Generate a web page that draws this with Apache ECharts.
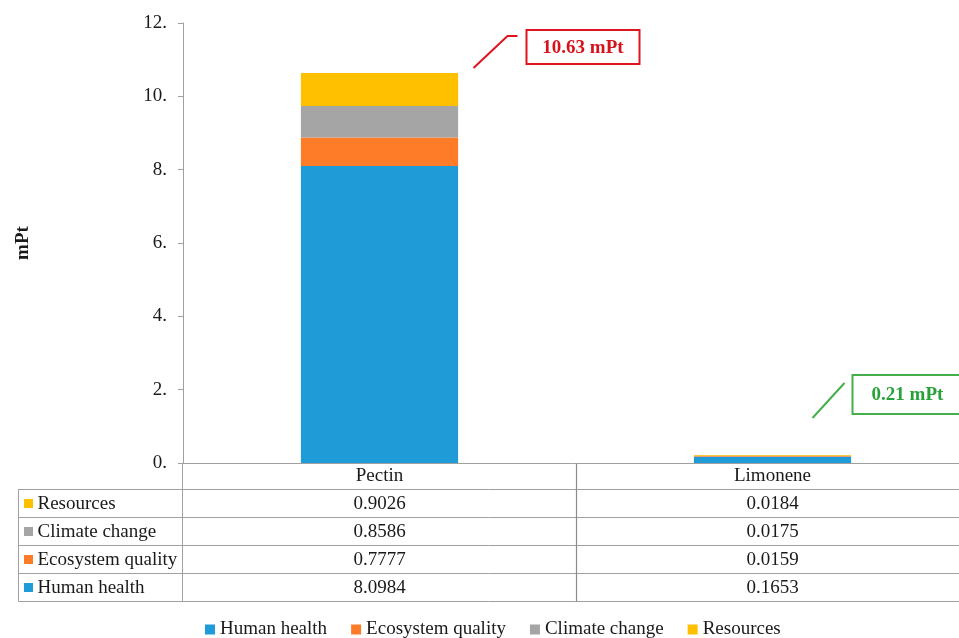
<!DOCTYPE html>
<html>
<head>
<meta charset="utf-8">
<script src="https://cdn.jsdelivr.net/npm/echarts@6/dist/echarts.min.js"></script>
<style>
  html, body { margin: 0; padding: 0; background: #ffffff; }
  #chart { width: 959px; height: 638px; }
</style>
</head>
<body>
<div id="chart"></div>
<script>
// Single-score results per product, split by damage category (mPt)
const categories = ['Pectin', 'Limonene'];
const seriesNames = ['Human health', 'Ecosystem quality', 'Climate change', 'Resources'];
const humanHealth = [8.0984, 0.1653];
const ecosystemQuality = [0.7777, 0.0159];
const climateChange = [0.8586, 0.0175];
const resources = [0.9026, 0.0184];
const totalLabels = ['10.63 mPt', '0.21 mPt'];
const yTicks = [0, 2, 4, 6, 8, 10, 12];

const seriesValues = [humanHealth, ecosystemQuality, climateChange, resources];
const colors = ['#1F9BD7', '#FE7C27', '#A5A5A5', '#FFC000'];
const FONT = 'Liberation Serif';
const FS = 19;
const TEXT = '#1a1a1a';
const LINE = '#a0a0a0';

const chart = echarts.init(document.getElementById('chart'), null, { renderer: 'canvas' });

const GRID = { left: 183, top: 23, width: 786, height: 440 };

chart.setOption({
  animation: false,
  backgroundColor: '#ffffff',
  color: colors,
  grid: Object.assign({ outerBoundsMode: 'none', containLabel: false }, GRID),
  legend: {
    left: 200,
    top: 615,
    itemWidth: 10,
    itemHeight: 10,
    itemGap: 24,
    icon: 'rect',
    data: seriesNames,
    textStyle: { fontFamily: FONT, fontSize: FS, color: TEXT }
  },
  xAxis: {
    type: 'category',
    data: categories,
    axisLine: { show: true, lineStyle: { color: LINE, width: 1 } },
    axisTick: { show: false },
    axisLabel: { show: true, fontFamily: FONT, fontSize: FS, color: TEXT, margin: 4 }
  },
  yAxis: {
    type: 'value',
    min: yTicks[0],
    max: yTicks[yTicks.length - 1],
    interval: yTicks[1] - yTicks[0],
    name: 'mPt',
    nameLocation: 'middle',
    nameGap: 150,
    nameRotate: 90,
    nameTextStyle: { fontFamily: FONT, fontSize: FS, fontWeight: 'bold', color: TEXT },
    axisLine: { show: true, lineStyle: { color: LINE, width: 1 } },
    axisTick: { show: true, length: 5, lineStyle: { color: LINE } },
    splitLine: { show: false },
    axisLabel: {
      fontFamily: FONT, fontSize: FS, color: TEXT, margin: 16,
      formatter: v => v + '.'
    }
  },
  series: seriesNames.map((name, i) => ({
    name: name,
    type: 'bar',
    stack: 'total',
    barWidth: '40%',
    data: seriesValues[i],
    itemStyle: { color: colors[i] }
  }))
});

// Data table under the axis plus value callouts
function buildGraphics() {
  const els = [];
  const x0 = GRID.left - 0.5;
  const yAxisBase = GRID.top + GRID.height;
  const colCenters = categories.map((c, i) => chart.convertToPixel({ gridIndex: 0 }, [i, 0])[0]);
  const band = colCenters[1] - colCenters[0];
  const headerH = 26, rowH = 28;
  const tableLeft = 18.5, tableRight = 959;
  const rowsTop = yAxisBase + headerH;
  const tableOrder = [3, 2, 1, 0];
  const bottom = rowsTop + rowH * tableOrder.length;

  // horizontal rules
  for (let r = 0; r <= tableOrder.length; r++) {
    const y = rowsTop + r * rowH + 0.5;
    els.push({ type: 'line', shape: { x1: tableLeft, y1: y, x2: tableRight, y2: y },
      style: { stroke: LINE, lineWidth: 1 }, silent: true });
  }
  // vertical rules
  els.push({ type: 'line', shape: { x1: tableLeft, y1: rowsTop, x2: tableLeft, y2: bottom + 0.5 },
    style: { stroke: LINE, lineWidth: 1 }, silent: true });
  els.push({ type: 'line', shape: { x1: x0, y1: yAxisBase, x2: x0, y2: bottom + 0.5 },
    style: { stroke: LINE, lineWidth: 1 }, silent: true });
  for (let c = 1; c < categories.length; c++) {
    const x = Math.round(colCenters[c] - band / 2) + 0.5;
    els.push({ type: 'line', shape: { x1: x, y1: yAxisBase, x2: x, y2: bottom + 0.5 },
      style: { stroke: '#8c8c8c', lineWidth: 1.2 }, silent: true });
  }

  // row labels and values
  tableOrder.forEach((si, r) => {
    const cy = rowsTop + r * rowH + rowH / 2 + 1;
    els.push({ type: 'rect', shape: { x: 24, y: cy - 5, width: 9, height: 9 },
      style: { fill: colors[si] }, silent: true });
    els.push({ type: 'text', x: 37.5, y: cy,
      style: { text: seriesNames[si], fontFamily: FONT, fontSize: FS, fill: TEXT,
        align: 'left', verticalAlign: 'middle' }, silent: true });
    categories.forEach((cat, ci) => {
      els.push({ type: 'text', x: colCenters[ci], y: cy,
        style: { text: seriesValues[si][ci].toFixed(4), fontFamily: FONT, fontSize: FS, fill: TEXT,
          align: 'center', verticalAlign: 'middle' }, silent: true });
    });
  });

  // total callouts
  const callouts = [
    { color: '#E0141E', textColor: '#D8121B', leader: [[94, -5], [128, -37], [138, -37]],
      box: [147, -43, 113, 34] },
    { color: '#45B04A', textColor: '#27A238', leader: [[40, -37], [72, -72]],
      box: [80, -80, 110, 39] }
  ];
  categories.forEach((cat, ci) => {
    const total = seriesValues.reduce((s, arr) => s + arr[ci], 0);
    const p = chart.convertToPixel({ gridIndex: 0 }, [ci, total]);
    const c = callouts[ci];
    els.push({ type: 'polyline',
      shape: { points: c.leader.map(d => [p[0] + d[0], p[1] + d[1]]) },
      style: { stroke: c.color, lineWidth: 2, fill: null }, silent: true });
    const bx = p[0] + c.box[0], by = p[1] + c.box[1];
    els.push({ type: 'rect', shape: { x: bx, y: by, width: c.box[2], height: c.box[3] },
      style: { stroke: c.color, lineWidth: 2, fill: '#ffffff' }, silent: true });
    els.push({ type: 'text', x: bx + c.box[2] / 2, y: by + c.box[3] / 2 + 1,
      style: { text: totalLabels[ci], fontFamily: FONT, fontSize: FS, fontWeight: 'bold',
        fill: c.textColor, align: 'center', verticalAlign: 'middle' }, silent: true });
  });

  chart.setOption({ graphic: { elements: els } });
}
buildGraphics();
</script>
</body>
</html>
